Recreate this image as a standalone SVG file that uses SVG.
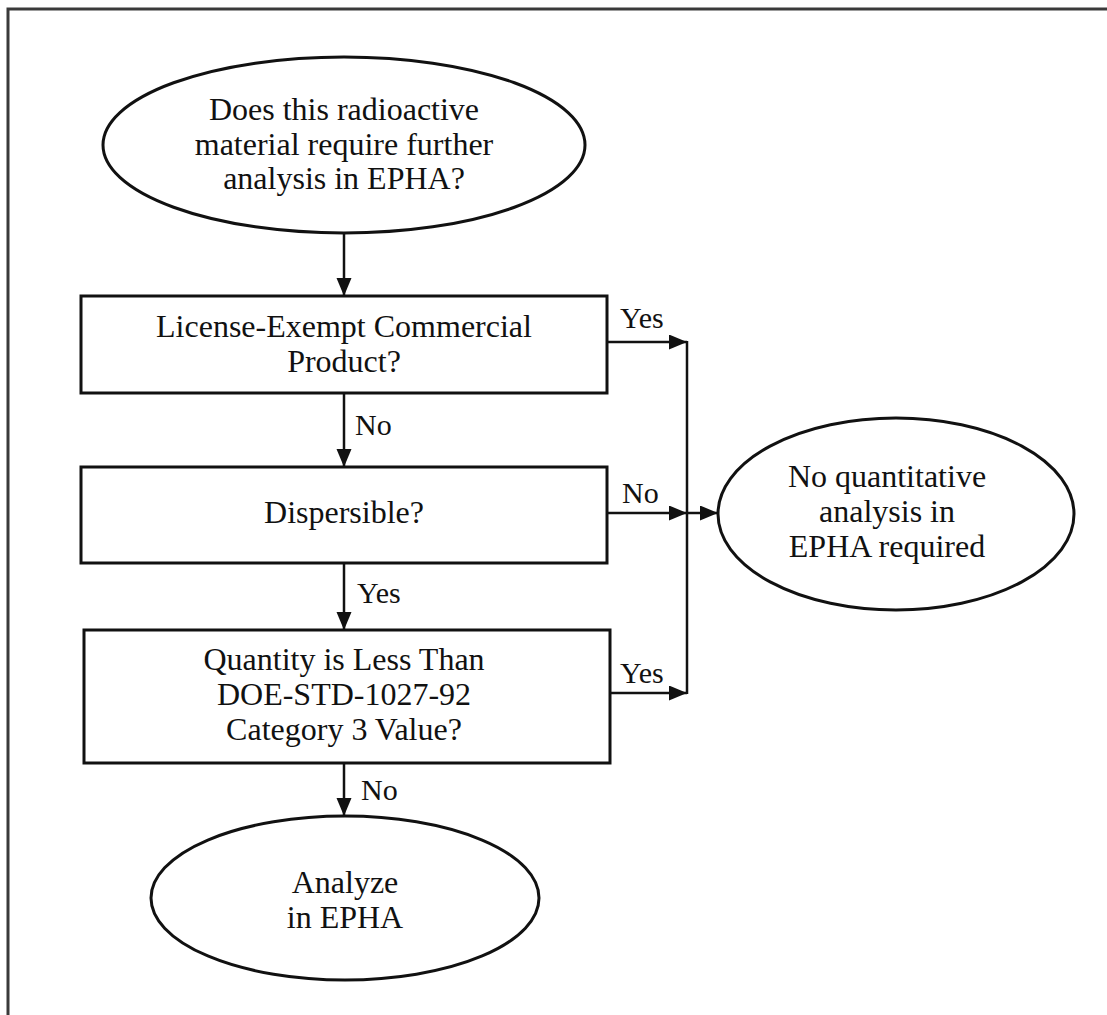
<svg xmlns="http://www.w3.org/2000/svg" width="1107" height="1015" viewBox="0 0 1107 1015">
<style>
  .shape { fill: #ffffff; stroke: #111111; stroke-width: 3; }
  .conn { fill: none; stroke: #111111; stroke-width: 2.5; }
  .t { font-family: "Liberation Serif", "Times New Roman", serif; font-size: 32px; fill: #111111; text-anchor: middle; }
  .lbl { font-family: "Liberation Serif", "Times New Roman", serif; font-size: 30px; fill: #111111; }
</style>
<defs>
  <marker id="arr" markerUnits="userSpaceOnUse" markerWidth="20" markerHeight="16" refX="18" refY="7.5" orient="auto">
    <path d="M0,0 L18,7.5 L0,15 Z" fill="#111111"/>
  </marker>
</defs>
<rect x="0" y="0" width="1107" height="1015" fill="#ffffff"/>
<path d="M8,1015 V9 H1107" fill="none" stroke="#3a3a3a" stroke-width="3"/>

<g id="start">
  <ellipse class="shape" cx="344" cy="145" rx="241" ry="88"/>
  <text class="t" x="344" y="120">Does this radioactive</text>
  <text class="t" x="344" y="155">material require further</text>
  <text class="t" x="344" y="189">analysis in EPHA?</text>
</g>

<g id="license">
  <rect class="shape" x="81" y="296" width="526" height="97"/>
  <text class="t" x="344" y="337">License-Exempt Commercial</text>
  <text class="t" x="344" y="372">Product?</text>
</g>

<g id="dispersible">
  <rect class="shape" x="81" y="467" width="526" height="96"/>
  <text class="t" x="344" y="523">Dispersible?</text>
</g>

<g id="quantity">
  <rect class="shape" x="84" y="630" width="526" height="133"/>
  <text class="t" x="344" y="670">Quantity is Less Than</text>
  <text class="t" x="344" y="705">DOE-STD-1027-92</text>
  <text class="t" x="344" y="740">Category 3 Value?</text>
</g>

<g id="noanalysis">
  <ellipse class="shape" cx="896" cy="514" rx="178" ry="96"/>
  <text class="t" x="887" y="487">No quantitative</text>
  <text class="t" x="887" y="522">analysis in</text>
  <text class="t" x="887" y="557">EPHA required</text>
</g>

<g id="analyze">
  <ellipse class="shape" cx="345" cy="898" rx="194" ry="82"/>
  <text class="t" x="345" y="893">Analyze</text>
  <text class="t" x="345" y="928">in EPHA</text>
</g>

<g id="connectors">
  <line class="conn" x1="344" y1="233" x2="344" y2="296" marker-end="url(#arr)"/>
  <line class="conn" x1="344" y1="393" x2="344" y2="467" marker-end="url(#arr)"/>
  <line class="conn" x1="344" y1="563" x2="344" y2="630" marker-end="url(#arr)"/>
  <line class="conn" x1="344" y1="763" x2="344" y2="816" marker-end="url(#arr)"/>
  <line class="conn" x1="607" y1="342" x2="687" y2="342" marker-end="url(#arr)"/>
  <line class="conn" x1="607" y1="513" x2="687" y2="513" marker-end="url(#arr)"/>
  <line class="conn" x1="610" y1="693" x2="687" y2="693" marker-end="url(#arr)"/>
  <line class="conn" x1="687" y1="341" x2="687" y2="694"/>
  <line class="conn" x1="687" y1="513" x2="718" y2="513" marker-end="url(#arr)"/>
  <text class="lbl" x="620" y="328">Yes</text>
  <text class="lbl" x="622" y="503">No</text>
  <text class="lbl" x="620" y="683">Yes</text>
  <text class="lbl" x="355" y="435">No</text>
  <text class="lbl" x="357" y="603">Yes</text>
  <text class="lbl" x="361" y="800">No</text>
</g>
</svg>
